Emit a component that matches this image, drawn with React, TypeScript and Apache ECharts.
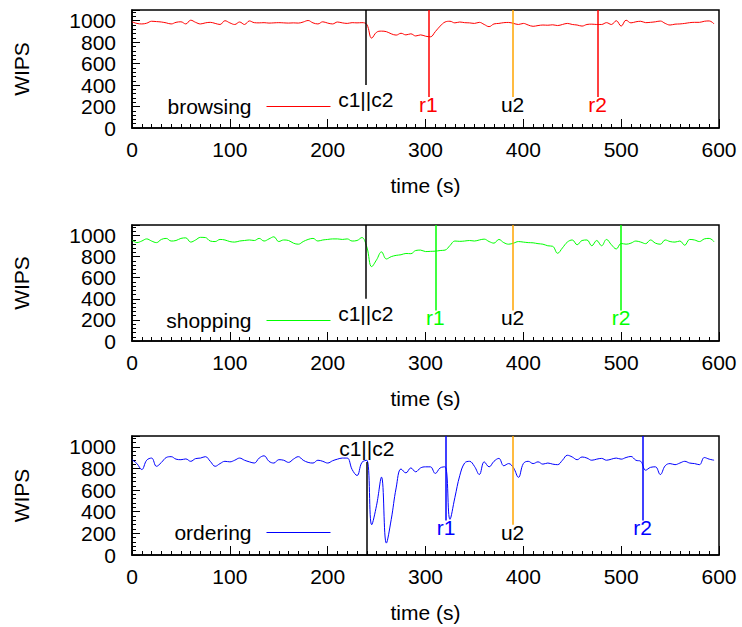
import React, { useEffect, useRef } from 'react';
import * as echarts from 'echarts';

const FONT = "'Liberation Sans', Arial, Helvetica, sans-serif";
const FS = 21;

const TIME = [
  0, 5, 10, 15, 20, 25, 30, 35, 40, 45,
  50, 55, 60, 65, 70, 75, 80, 85, 90, 95,
  100, 105, 110, 115, 120, 125, 130, 135, 140, 145,
  150, 155, 160, 165, 170, 175, 180, 185, 190, 195,
  200, 205, 210, 215, 220, 225, 230, 235, 240, 245,
  250, 255, 260, 265, 270, 275, 280, 285, 290, 295,
  300, 305, 310, 315, 320, 325, 330, 335, 340, 345,
  350, 355, 360, 365, 370, 375, 380, 385, 390, 395,
  400, 405, 410, 415, 420, 425, 430, 435, 440, 445,
  450, 455, 460, 465, 470, 475, 480, 485, 490, 495,
  500, 505, 510, 515, 520, 525, 530, 535, 540, 545,
  550, 555, 560, 565, 570, 575, 580, 585, 590, 595,
];

const BROWSING = [
  990, 975, 970, 977, 995, 992, 988, 980, 970, 985,
  990, 970, 1005, 985, 970, 980, 985, 975, 965, 1000,
  980, 965, 988, 965, 998, 982, 980, 982, 978, 980,
  982, 980, 978, 980, 978, 988, 1002, 980, 970, 990,
  978, 970, 988, 980, 975, 982, 980, 982, 965, 838,
  893, 903, 898, 878, 866, 883, 868, 878, 858, 868,
  856, 850, 898, 950, 988, 995, 980, 988, 982, 980,
  975, 985, 965, 945, 970, 975, 982, 984, 975, 965,
  975, 960, 948, 955, 960, 958, 962, 955, 965, 975,
  965, 960, 950, 965, 968, 965, 965, 982, 965, 1000,
  950, 1005, 980, 990, 995, 982, 985, 990, 997, 975,
  960, 968, 970, 975, 982, 985, 985, 995, 998, 970,
];

const SHOPPING = [
  958, 933, 948, 968, 948, 933, 963, 973, 948, 953,
  973, 978, 938, 958, 983, 981, 948, 943, 963, 958,
  943, 938, 948, 953, 958, 953, 973, 948, 968, 988,
  943, 958, 953, 928, 918, 943, 963, 973, 948, 958,
  963, 968, 968, 963, 968, 948, 953, 981, 892, 705,
  770, 845, 778, 800, 812, 818, 830, 828, 858, 862,
  848, 850, 852, 858, 862, 905, 948, 945, 948, 953,
  948, 958, 966, 943, 928, 963, 933, 918, 928, 943,
  938, 933, 931, 923, 918, 903, 898, 832, 883, 938,
  958, 913, 953, 958, 903, 953, 903, 963, 913, 873,
  925, 918, 928, 948, 938, 923, 958, 928, 918, 958,
  943, 938, 948, 908, 963, 958, 943, 968, 973, 941,
];

const ORDERING = [
  881, 845, 790, 876, 896, 820, 855, 901, 909, 886,
  881, 888, 866, 891, 896, 909, 866, 820, 845, 866,
  861, 876, 896, 876, 861, 850, 896, 917, 866, 850,
  881, 876, 856, 886, 909, 876, 856, 850, 876, 866,
  850, 871, 886, 896, 896, 790, 735, 856, 876, 280,
  460, 720, 110, 330, 620, 795, 759, 805, 769, 805,
  815, 815, 754, 805, 815, 330, 530, 733, 850, 866,
  820, 744, 861, 815, 866, 893, 825, 845, 805, 718,
  845, 866, 845, 861, 840, 850, 840, 835, 876, 922,
  906, 881, 906, 896, 876, 886, 893, 876, 886, 896,
  886, 901, 911, 876, 866, 784, 810, 815, 744, 825,
  845, 835, 850, 866, 850, 845, 835, 901, 886, 876,
];

const SERIES_NAMES = ['browsing', 'shopping', 'ordering'];
const SERIES_COLORS = ['#ff0000', '#00ff00', '#0000ff'];
const SERIES_VALUES = [BROWSING, SHOPPING, ORDERING];

const EVENT_LABELS = ['c1||c2', 'r1', 'u2', 'r2'];
const EVENT_TIMES = [
  [239, 303, 389, 476],
  [239, 310, 389, 500],
  [240, 321, 389, 522],
];
// lower end of each event line (WIPS)
const EVENT_ENDS = [
  [400, 290, 290, 290],
  [400, 290, 290, 290],
  [0, 320, 280, 320],
];
const C1C2_TOP_ORDERING = 860;

const Y_MAX = 1100;
const X_MAX = 600;

const GRID_TOPS = [10, 225, 436];
const GRID_HEIGHTS = [118, 116, 119];
const LEGEND_TOPS = [96, 310, 522];

function eventLines(panel: number) {
  const color = SERIES_COLORS[panel];
  return EVENT_LABELS.map((label, k) => {
    const t = EVENT_TIMES[panel][k];
    const lineColor = k === 0 ? '#000000' : k === 2 ? '#ffa500' : color;
    const labelColor = k === 0 || k === 2 ? '#000000' : color;
    const isTopLabel = panel === 2 && k === 0;
    const top = isTopLabel ? C1C2_TOP_ORDERING : Y_MAX;
    return [
      {
        coord: [t, top],
        lineStyle: { color: lineColor, width: 1.5, type: 'solid' },
        label: {
          show: true,
          position: isTopLabel ? 'start' : 'end',
          formatter: label,
          color: labelColor,
          fontSize: FS,
          fontFamily: FONT,
          distance: isTopLabel ? 3 : k === 0 ? 4 : -3,
        },
      },
      { coord: [t, EVENT_ENDS[panel][k]] },
    ];
  });
}

export default function App() {
  const ref = useRef<HTMLDivElement>(null);
  useEffect(() => {
    if (!ref.current) return;
    const chart = echarts.init(ref.current, null, { renderer: 'svg' });
    const axisText = { fontSize: FS, color: '#000', fontFamily: FONT };
    const plain = (v: number) => String(v);
    const option: any = {
      animation: false,
      backgroundColor: '#ffffff',
      grid: GRID_TOPS.map((top, i) => ({
        left: 132,
        right: 23,
        top,
        height: GRID_HEIGHTS[i],
        show: true,
        borderColor: '#000',
        borderWidth: 1.5,
        backgroundColor: 'transparent',
      })),
      legend: SERIES_NAMES.map((n, i) => ({
        data: [n],
        right: 411,
        top: LEGEND_TOPS[i],
        align: 'right',
        orient: 'horizontal',
        itemWidth: 64,
        itemHeight: 14,
        padding: 0,
        selectedMode: false,
        itemStyle: { opacity: 0 },
        lineStyle: { width: 1 },
        textStyle: { ...axisText, padding: [0, 10, 0, 0] },
      })),
      xAxis: GRID_TOPS.map((_, i) => ({
        type: 'value',
        gridIndex: i,
        min: 0,
        max: X_MAX,
        interval: 100,
        axisLine: { show: true, lineStyle: { color: '#000', width: 1.5 } },
        axisTick: { show: true, inside: true, length: 9, lineStyle: { color: '#000', width: 1 } },
        minorTick: { show: true, splitNumber: 10, length: 4, lineStyle: { color: '#000', width: 1 } },
        splitLine: { show: false },
        axisLabel: { ...axisText, margin: 11, formatter: plain },
        name: 'time (s)',
        nameLocation: 'middle',
        nameGap: 47,
        nameTextStyle: axisText,
      })),
      yAxis: GRID_TOPS.map((_, i) => ({
        type: 'value',
        gridIndex: i,
        min: 0,
        max: Y_MAX,
        interval: 200,
        axisLine: { show: true, lineStyle: { color: '#000', width: 1.5 } },
        axisTick: { show: true, inside: true, length: 8, lineStyle: { color: '#000', width: 1 } },
        minorTick: { show: true, splitNumber: 5, length: 4, lineStyle: { color: '#000', width: 1 } },
        splitLine: { show: false },
        axisLabel: { ...axisText, margin: 16, showMaxLabel: false, formatter: plain },
        name: 'WIPS',
        nameLocation: 'middle',
        nameGap: 100,
        nameRotate: 90,
        nameTextStyle: axisText,
      })),
      series: SERIES_NAMES.map((name, i) => ({
        name,
        type: 'line',
        xAxisIndex: i,
        yAxisIndex: i,
        data: TIME.map((t, j) => [t, SERIES_VALUES[i][j]]),
        symbol: 'none',
        showSymbol: false,
        smooth: 0.4,
        color: SERIES_COLORS[i],
        lineStyle: { color: SERIES_COLORS[i], width: 1 },
        markLine: {
          silent: true,
          symbol: ['none', 'none'],
          animation: false,
          data: eventLines(i),
        },
      })),
    };
    chart.setOption(option);
    return () => chart.dispose();
  }, []);
  return (
    <div
      ref={ref}
      style={{ position: 'fixed', left: 0, top: 0, width: 742, height: 627, background: '#fff' }}
    />
  );
}
